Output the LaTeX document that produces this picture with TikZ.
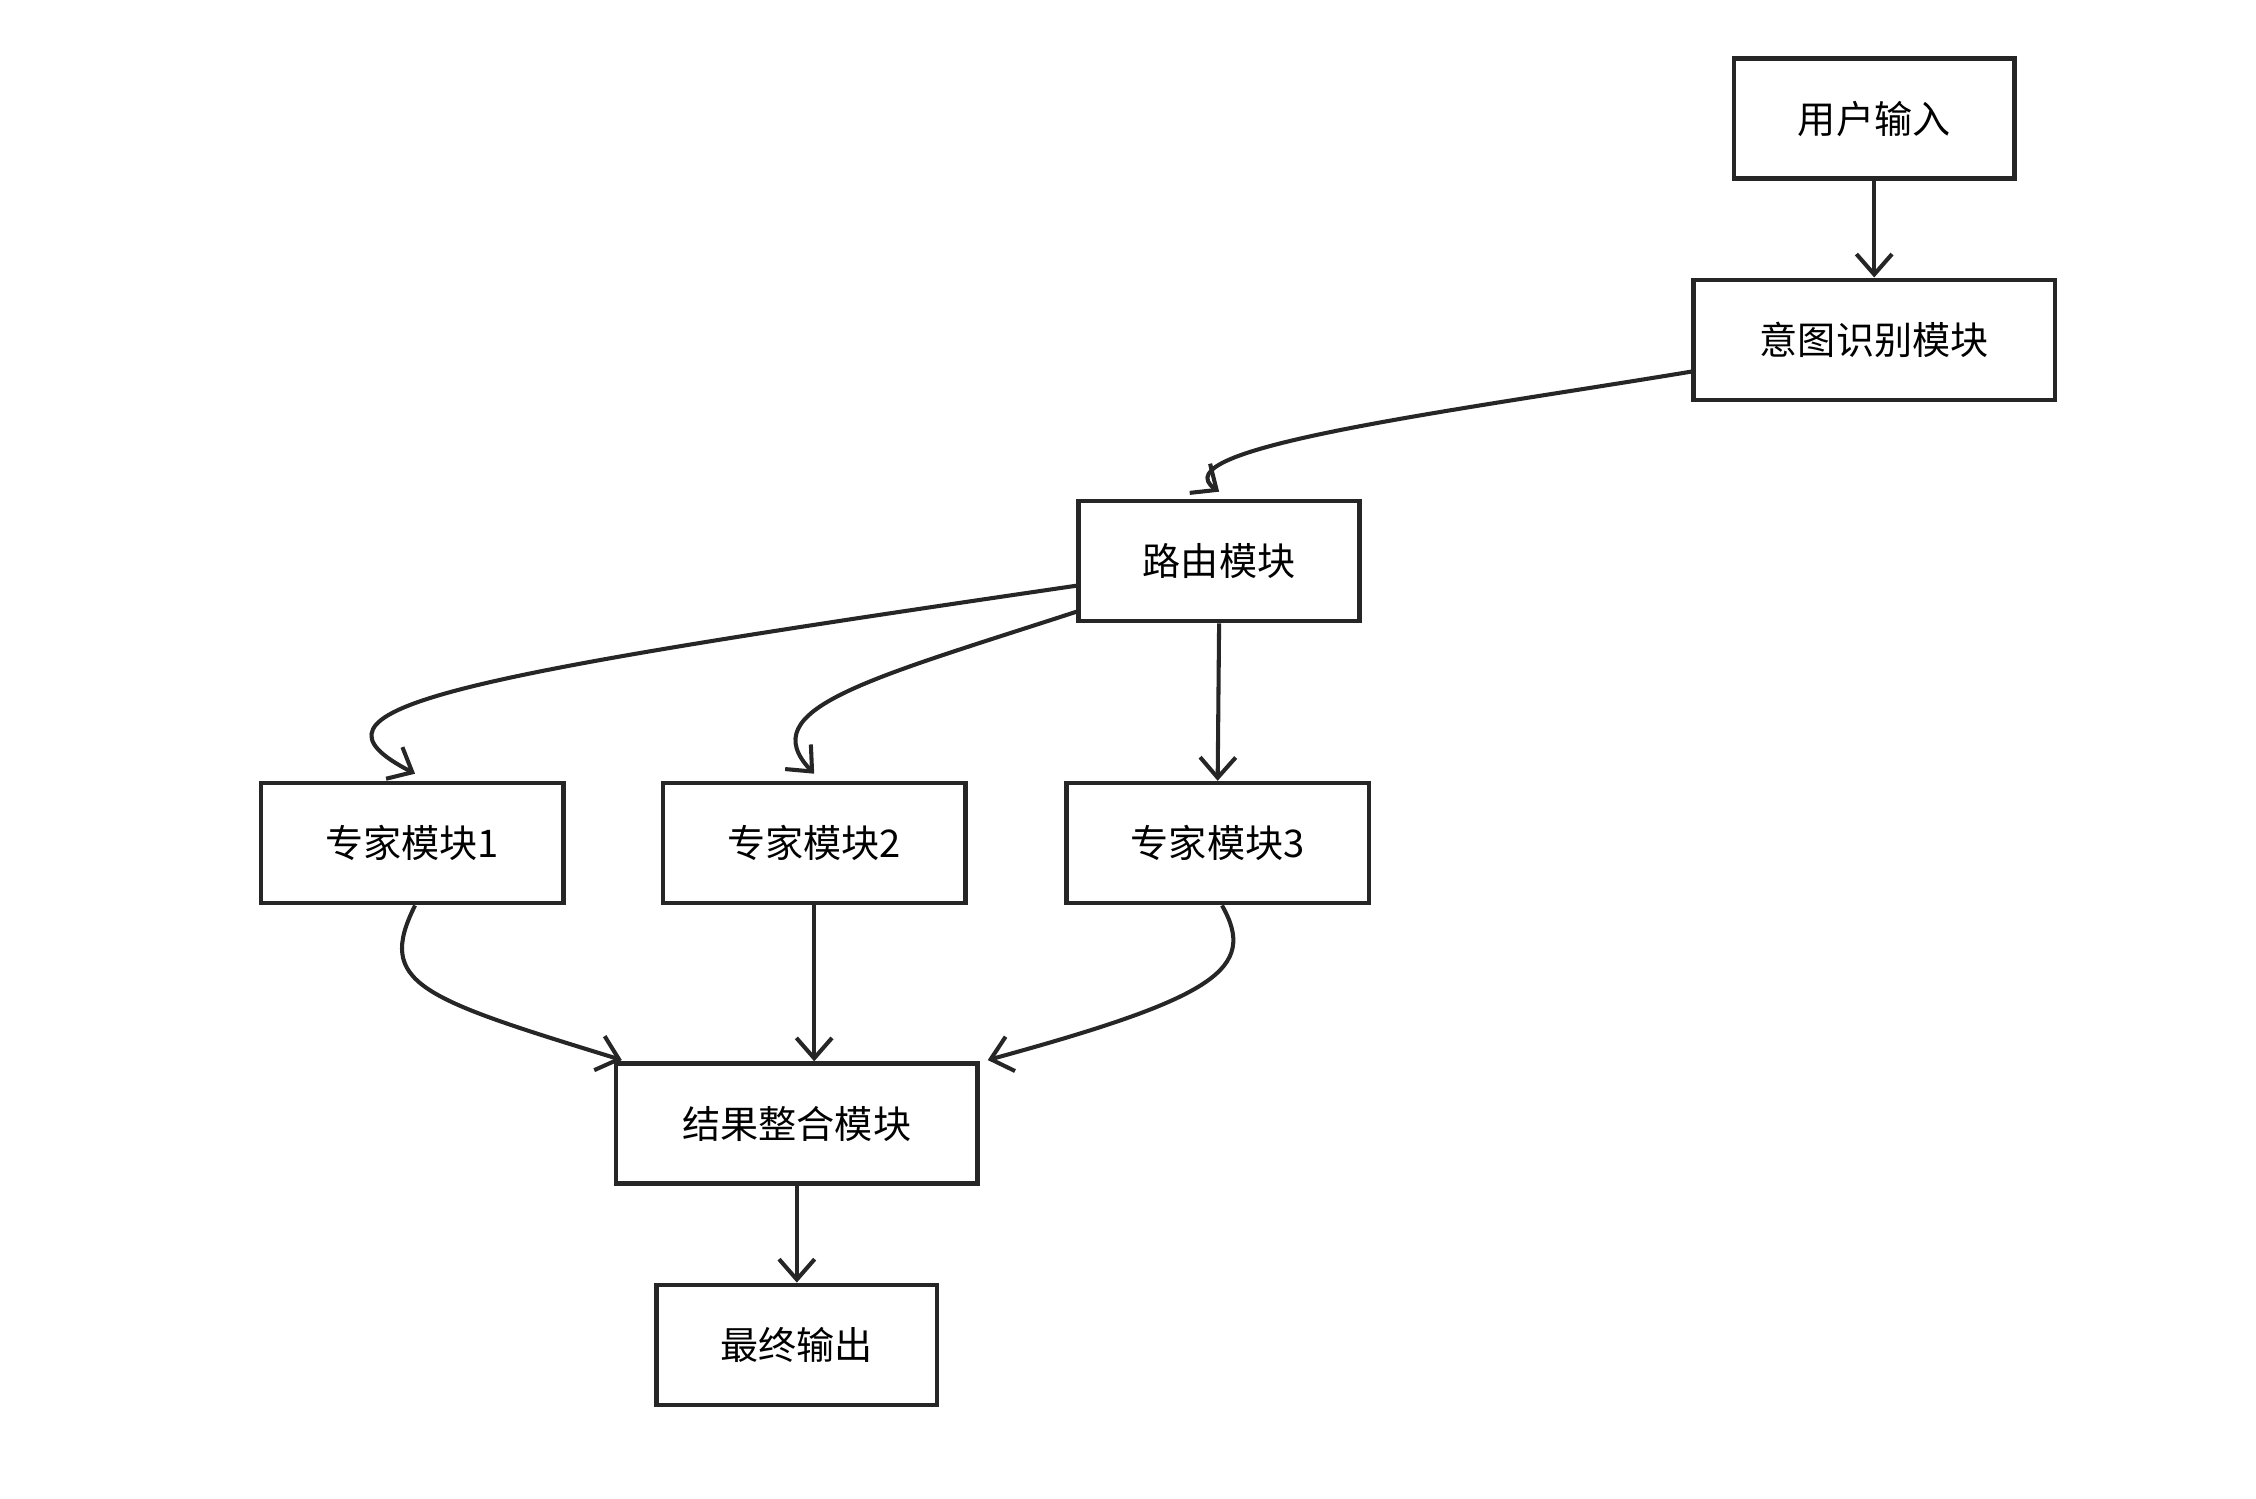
\documentclass[tikz,border=0pt]{standalone}
\usepackage{fontspec}
\setmainfont{Noto Sans CJK SC}
\usetikzlibrary{positioning,arrows.meta}
\begin{document}
\begin{tikzpicture}[x=0.01cm,y=0.01cm]
        \tikzstyle{box}=[draw=black!85,line width=0.9pt,minimum height=0.83cm,inner sep=0pt,font=\fontsize{7.5}{9}\selectfont]
        \tikzstyle{link}=[draw=black!85,line width=0.8pt,-{Straight Barb[length=4pt,width=7pt]}]
        \useasboundingbox (0,0) rectangle (1560,-1036);
        \node [box,minimum width=1.94cm] (input) at (1296,-82) {用户输入};
        \node [box,minimum width=2.5cm] (intent) at (1296,-235) {意图识别模块};
        \node [box,minimum width=1.94cm] (router) at (843,-388) {路由模块};
        \node [box,minimum width=2.09cm] (exp1) at (285,-583) {专家模块1};
        \node [box,minimum width=2.09cm] (exp2) at (563,-583) {专家模块2};
        \node [box,minimum width=2.09cm] (exp3) at (842,-583) {专家模块3};
        \node [box,minimum width=2.5cm] (merge) at (551,-777) {结果整合模块};
        \node [box,minimum width=1.94cm] (final) at (551,-930) {最终输出};
        \draw [link] (input) -- (intent);
        \draw [link] (intent.west) ++(0,-22) .. controls (1000,-285) and (800,-310) .. (843,-340);
        \draw [link] (router.west) ++(0,-17) .. controls (300,-470) and (200,-490) .. (287,-535);
        \draw [link] (router.west) ++(0,-35) .. controls (600,-470) and (520,-490) .. (563,-535);
        \draw [link] (router.south) -- (exp3.north);
        \draw [link] (exp1.south) ++(2,0) .. controls (260,-680) and (290,-690) .. (430,-733);
        \draw [link] (exp2.south) -- (merge.north -| exp2.south);
        \draw [link] (exp3.south) ++(3,0) .. controls (870,-670) and (840,-690) .. (683,-733);
        \draw [link] (merge) -- (final);
\end{tikzpicture}
\end{document}
